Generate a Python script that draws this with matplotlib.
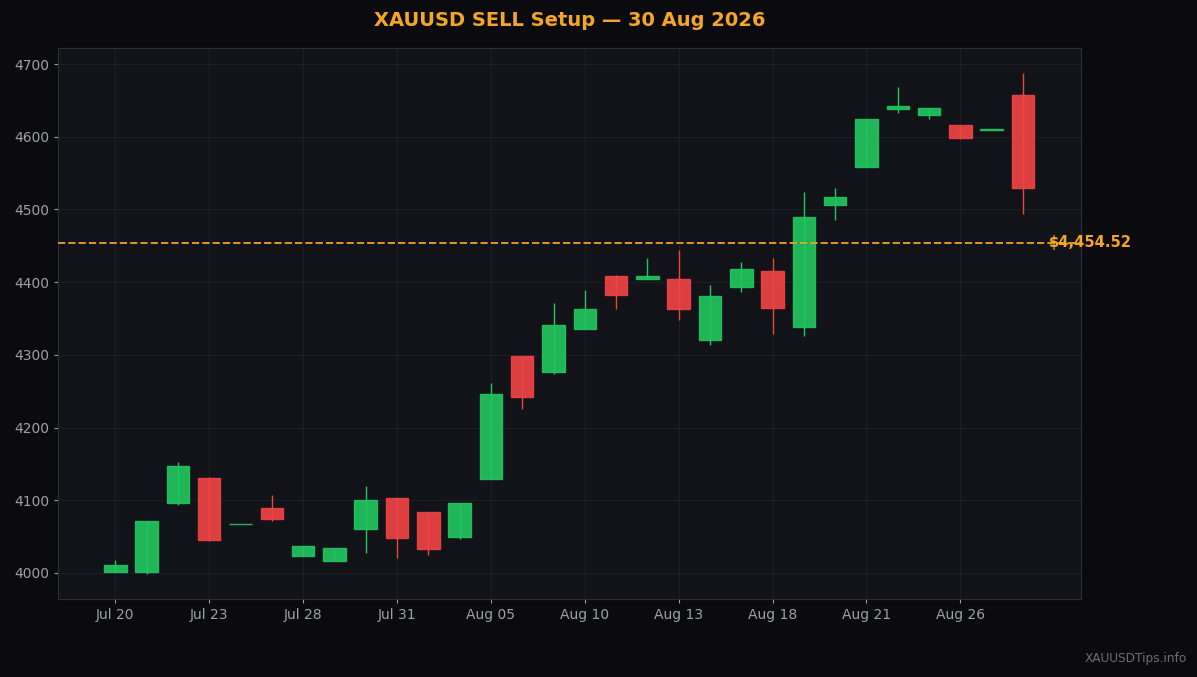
import numpy as np
import pandas as pd
import matplotlib
matplotlib.use("Agg")
import matplotlib.pyplot as plt

# trading days (weekdays) Jul 20 - Aug 28 2026
dates = pd.bdate_range("2026-07-20", "2026-08-28")

opens = [4002, 4002, 4096, 4130, 4067, 4090, 4024, 4017, 4060, 4103,
         4084, 4049, 4129, 4298, 4276, 4335, 4409, 4405, 4404, 4321,
         4394, 4416, 4339, 4506, 4559, 4638, 4630, 4616, 4609, 4657]
highs = [4018, 4071, 4152, 4132, 4068, 4107, 4037, 4035, 4119, 4103,
         4084, 4096, 4261, 4298, 4371, 4389, 4410, 4433, 4444, 4396,
         4428, 4433, 4524, 4530, 4624, 4669, 4639, 4616, 4610, 4688]
lows = [4001, 3998, 4094, 4044, 4067, 4071, 4023, 4016, 4027, 4021,
        4025, 4047, 4129, 4226, 4273, 4335, 4363, 4404, 4348, 4314,
        4386, 4329, 4326, 4485, 4559, 4633, 4625, 4597, 4609, 4494]
closes = [4011, 4071, 4147, 4045, 4068, 4074, 4037, 4035, 4100, 4048,
          4033, 4096, 4246, 4242, 4341, 4363, 4382, 4409, 4363, 4381,
          4418, 4365, 4489, 4517, 4624, 4642, 4639, 4598, 4610, 4529]

level = 4454.52
title = "XAUUSD SELL Setup \u2014 30 Aug 2026"

bg = "#0b0b0f"
panel = "#121318"
up_col = "#22c55e"
down_col = "#ef4444"
gold = "#f5a623"

fig = plt.figure(figsize=(11.97, 6.77), dpi=100, facecolor=bg)
ax = fig.add_axes([0.0485, 0.115, 0.8545, 0.814])
ax.set_facecolor(panel)

x = np.arange(len(dates))
for i in x:
    o, h, l, c = opens[i], highs[i], lows[i], closes[i]
    col = up_col if c >= o else down_col
    ax.vlines(i, l, h, color=col, linewidth=1, zorder=2)
    lo = min(o, c)
    hgt = max(abs(c - o), 0.6)
    ax.bar(i, hgt, bottom=lo, width=0.72, color=col, edgecolor=col,
           linewidth=1, alpha=0.92, zorder=3)

ax.text(len(dates) - 0.18, level, f"${level:,.2f}", color=gold, fontsize=10.6,
        fontweight="bold", va="center", ha="left", zorder=4, clip_on=False)
ax.axhline(level, color=gold, linestyle="--", linewidth=1.4, alpha=0.9, zorder=5)

ax.set_xlim(-1.83, len(dates) + 0.85)
ax.set_ylim(3964, 4722)
ax.set_xticks(x[::3])
ax.set_xticklabels([d.strftime("%b %d") for d in dates[::3]])
ax.set_yticks(np.arange(4000, 4701, 100))

ax.grid(True, color="#26272d", linewidth=0.8, alpha=0.6, zorder=3.5)
ax.tick_params(colors="#9ca0a8", labelsize=10, length=3)
for s in ax.spines.values():
    s.set_color("#2e2f35")

ax.set_title(title, color=gold, fontsize=14, fontweight="bold", pad=16)
fig.text(0.9915, 0.017, "XAUUSDTips.info", color="#6b6e75", fontsize=8.7,
         ha="right", va="bottom")

fig.savefig("out.png", dpi=100, facecolor=bg)
